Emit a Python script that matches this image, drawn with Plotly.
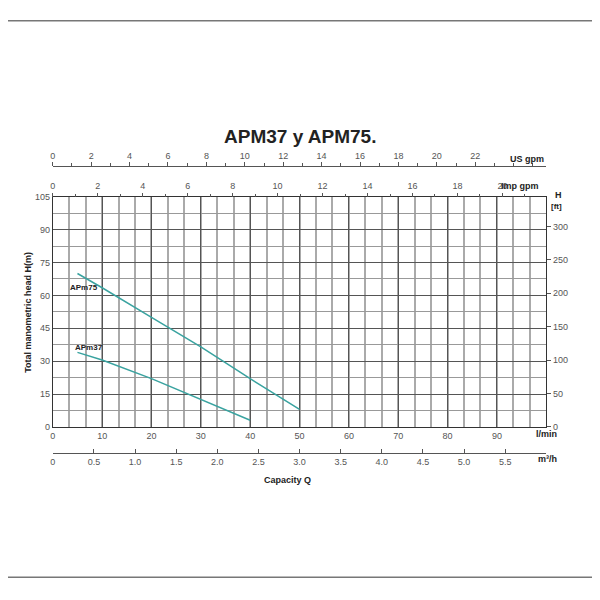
import plotly.graph_objects as go

q75 = [5, 10, 20, 30, 40, 50]
h75 = [70, 63.5, 50, 36.5, 22, 8]
q37 = [5, 10, 20, 30, 40]
h37 = [34, 30.5, 22, 12.5, 3]

W = 590.0
OX, OY = 10, 9
def px(x): return (x - OX) / W
def py(y): return 1 - (y - OY) / W

x0, x1 = px(52), px(548)
y0, y1 = py(430), py(196)
tf = dict(size=9, color="#555", family="Liberation Sans")

fig = go.Figure()
fig.add_trace(go.Scatter(x=q75, y=h75, mode="lines", line=dict(color="#3aa3a0", width=1.5), showlegend=False))
fig.add_trace(go.Scatter(x=q37, y=h37, mode="lines", line=dict(color="#3aa3a0", width=1.5), showlegend=False))
fig.add_trace(go.Scatter(x=[0], y=[0], xaxis="x2", yaxis="y", mode="none", showlegend=False, hoverinfo="skip"))
fig.add_trace(go.Scatter(x=[0], y=[0], xaxis="x3", yaxis="y", mode="none", showlegend=False, hoverinfo="skip"))
fig.add_trace(go.Scatter(x=[0], y=[0], xaxis="x4", yaxis="y", mode="none", showlegend=False, hoverinfo="skip"))
fig.add_trace(go.Scatter(x=[0], y=[0], xaxis="x", yaxis="y2", mode="none", showlegend=False, hoverinfo="skip"))

fig.update_layout(
    width=590, height=590, margin=dict(l=0, r=0, t=0, b=0),
    paper_bgcolor="white", plot_bgcolor="white",
    xaxis=dict(domain=[x0, x1], range=[0, 100], tickvals=list(range(0, 100, 10)), showgrid=True, gridcolor="#555", gridwidth=1,
               minor=dict(dtick=10/3, showgrid=True, gridcolor="#aaa", gridwidth=1.5),
               showline=True, linecolor="#333", mirror=True, tickfont=tf, ticks="", zeroline=False, anchor="y"),
    yaxis=dict(domain=[y0, y1], range=[0, 105], dtick=15, showgrid=True, gridcolor="#555",
               minor=dict(dtick=7.5, showgrid=True, gridcolor="#999"),
               showline=True, linecolor="#333", mirror=True, tickfont=tf, ticks="", zeroline=False, anchor="x"),
    yaxis2=dict(overlaying="y", side="right", range=[0, 105*3.2808], tickvals=[0, 50, 100, 150, 200, 250, 300],
                showgrid=False, tickfont=tf, ticks="outside", ticklen=4, tickcolor="#555", zeroline=False, anchor="x"),
    xaxis2=dict(overlaying="x", side="top", anchor="free", position=py(165), range=[0, 25.7],
                minor=dict(dtick=1, ticks="outside", ticklen=3, tickcolor="#555"), ticks="outside", ticklen=4, tickcolor="#555",
                showline=True, linecolor="#555", showgrid=False, zeroline=False, tickfont=tf, tickvals=list(range(0, 24, 2))),
    xaxis3=dict(overlaying="x", side="top", anchor="free", position=y1, range=[0, 21.95],
                tickvals=list(range(0, 22, 2)),
                minor=dict(dtick=1, ticks="outside", ticklen=3, tickcolor="#555"), ticks="outside", ticklen=4, tickcolor="#555",
                showline=False, showgrid=False, zeroline=False, tickfont=tf),
    xaxis4=dict(overlaying="x", side="bottom", anchor="free", position=py(457), range=[0, 6],
                tickvals=[0, 0.5, 1, 1.5, 2, 2.5, 3, 3.5, 4, 4.5, 5, 5.5],
                ticktext=["0", "0.5", "1.0", "1.5", "2.0", "2.5", "3.0", "3.5", "4.0", "4.5", "5.0", "5.5"],
                ticks="inside", ticklen=4, tickcolor="#555", showline=True, linecolor="#555",
                showgrid=False, zeroline=False, tickfont=tf),
)

bold = dict(family="Liberation Sans", color="#222")
ann = [
    dict(x=px(300), y=py(122), text="<b>APM37 y APM75.</b>", font=dict(size=19, **bold)),
    dict(x=px(548), y=py(150), text="<b>US gpm</b>", font=dict(size=9, **bold)),
    dict(x=px(543), y=py(178), text="<b>Imp gpm</b>", font=dict(size=9, **bold)),
    dict(x=px(566), y=py(187), text="<b>H</b>", font=dict(size=9, **bold)),
    dict(x=px(566), y=py(199), text="<b>[ft]</b>", font=dict(size=8, **bold)),
    dict(x=px(561), y=py(444), text="<b>l/min</b>", font=dict(size=9, **bold)),
    dict(x=px(561), y=py(470), text="<b>m³/h</b>", font=dict(size=9, **bold)),
    dict(x=px(288), y=py(491), text="<b>Capacity Q</b>", font=dict(size=9, **bold)),
    dict(x=px(20), y=py(313), text="<b>Total manometric head H(m)</b>", textangle=-90, font=dict(size=9, **bold)),
    dict(x=px(67), y=py(288), text="<b>APm75</b>", font=dict(size=8, **bold)),
    dict(x=px(72), y=py(349), text="<b>APm37</b>", font=dict(size=8, **bold)),
]
for a in ann:
    a.update(xref="paper", yref="paper", showarrow=False)
fig.update_layout(annotations=ann)
fig.add_shape(type="rect", xref="paper", yref="paper", x0=px(5), x1=px(595), y0=py(583), y1=py(17),
              line=dict(color="#777", width=1.5))
fig.write_html("out.html")
